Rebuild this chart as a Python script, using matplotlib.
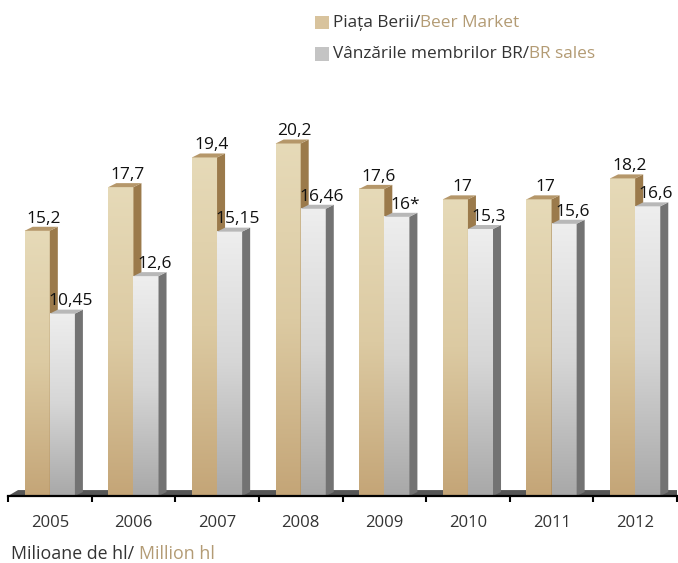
import numpy as np
import matplotlib
matplotlib.use("Agg")
import matplotlib.pyplot as plt
from matplotlib.colors import LinearSegmentedColormap
from matplotlib.patches import Polygon, Rectangle

plt.rcParams['font.family'] = ['Open Sans', 'DejaVu Sans']

years = ['2005', '2006', '2007', '2008', '2009', '2010', '2011', '2012']
beer_market = [15.2, 17.7, 19.4, 20.2, 17.6, 17.0, 17.0, 18.2]
br_sales = [10.45, 12.6, 15.15, 16.46, 16.0, 15.3, 15.6, 16.6]
beer_labels = ['15,2', '17,7', '19,4', '20,2', '17,6', '17', '17', '18,2']
br_labels = ['10,45', '12,6', '15,15', '16,46', '16*', '15,3', '15,6', '16,6']

W, H = 678, 563
fig = plt.figure(figsize=(W / 100, H / 100), dpi=100)
# axes from x=8px to 677px, baseline at y=496px, 17.45 px per unit
ymax = 24
ax = fig.add_axes([8 / W, (H - 496) / H, 669 / W, 17.45 * ymax / H])

dark = '#333333'
tan_txt = '#b39b74'

beer_cm = LinearSegmentedColormap.from_list('beer', ['#c4a577', '#dccaa2', '#e6dab8'])
gray_cm = LinearSegmentedColormap.from_list('gray', ['#a8a8a8', '#d6d6d6', '#eeeeee'])
grad = np.linspace(0, 1, 256).reshape(-1, 1)

bw = 0.3                 # bar width (categories are 1 unit)
dx = 8 / 83.6            # depth to the right
dy = 4 / 17.45           # depth upward


def bar3d(x0, h, cmap, side, top, z):
    x1 = x0 + bw
    ax.imshow(grad, extent=[x0, x1, 0, h], origin='lower', cmap=cmap,
              aspect='auto', zorder=z, interpolation='bilinear')
    ax.add_patch(Polygon([(x1, 0), (x1 + dx, dy), (x1 + dx, h + dy), (x1, h)],
                         closed=True, facecolor=side, edgecolor='none', zorder=z))
    ax.add_patch(Polygon([(x0, h), (x0 + dx, h + dy), (x1 + dx, h + dy), (x1, h)],
                         closed=True, facecolor=top, edgecolor='none', zorder=z))


# floor
n = len(years)
ax.add_patch(Polygon([(0, 0), (0.12, 0.34), (n, 0.34), (n, 0)], closed=True,
                     facecolor='#555555', edgecolor='none', zorder=1))

for i in range(n):
    xb = i + 0.2
    xg = xb + bw
    bar3d(xb, beer_market[i], beer_cm, '#9b7a4b', '#b5976a', 2 + i * 0.01)
    bar3d(xg, br_sales[i], gray_cm, '#737373', '#b8b8b8', 3 + i * 0.01)
    ax.annotate(beer_labels[i], (xb + bw / 2 + 0.08, beer_market[i] + dy),
                xytext=(0, 3), textcoords='offset points', ha='center',
                va='baseline', fontsize=12.5, color='#111111', zorder=5)
    ax.annotate(br_labels[i], (xg + bw / 2 + 0.1, br_sales[i] + dy),
                xytext=(0, 3), textcoords='offset points', ha='center',
                va='baseline', fontsize=12.5, color='#111111', zorder=5)

ax.set_xlim(0, n)
ax.set_ylim(0, ymax)
for s in ['top', 'right', 'left']:
    ax.spines[s].set_visible(False)
ax.spines['bottom'].set_linewidth(1.6)
ax.spines['bottom'].set_zorder(6)
ax.set_yticks([])
ax.set_xticks(range(n + 1))
ax.set_xticklabels([])
ax.tick_params(axis='x', which='major', length=4.5, width=1.5, direction='out')
ax.set_xticks(np.arange(n) + 0.5, minor=True)
ax.set_xticklabels(years, minor=True, fontsize=12, color=dark)
ax.tick_params(axis='x', which='minor', length=0, pad=14)
ax.patch.set_alpha(0)

# legend and unit note, two-coloured texts
renderer = fig.canvas.get_renderer()


def two_tone(x, y, a, b, size):
    t = fig.text(x / W, 1 - y / H, a, fontsize=size, color=dark, va='baseline')
    ext = t.get_window_extent(renderer=renderer)
    fig.text(ext.x1 / W, 1 - y / H, b, fontsize=size, color=tan_txt, va='baseline')


fig.patches.append(Rectangle((315 / W, 1 - 29 / H), 14 / W, 13 / H,
                             transform=fig.transFigure, facecolor='#d8c39d',
                             edgecolor='none'))
fig.patches.append(Rectangle((315 / W, 1 - 61 / H), 14 / W, 14 / H,
                             transform=fig.transFigure, facecolor='#c4c4c4',
                             edgecolor='none'))
two_tone(333, 27, 'Piața Berii/', 'Beer Market', 12.4)
two_tone(333, 58, 'Vânzările membrilor BR/', 'BR sales', 12.4)
two_tone(11, 559, 'Milioane de hl/ ', 'Million hl', 12.8)

fig.savefig('out.png', dpi=100)
